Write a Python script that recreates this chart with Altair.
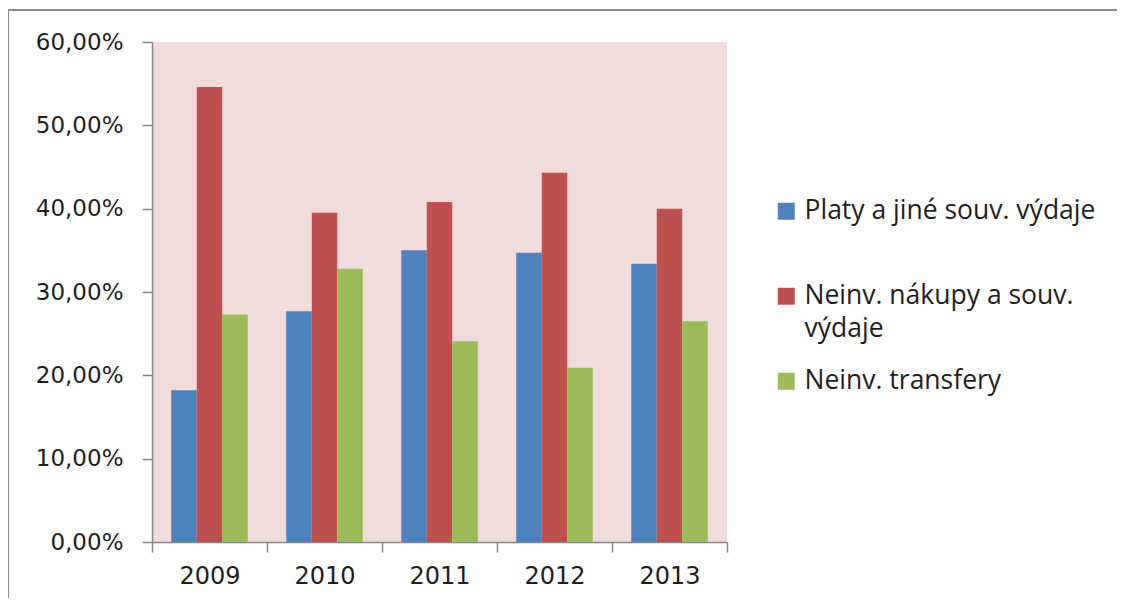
import altair as alt
import pandas as pd

years = ["2009", "2010", "2011", "2012", "2013"]
series = ["Platy a jiné souv. výdaje", "Neinv. nákupy a souv. výdaje", "Neinv. transfery"]
platy = [18.2, 27.7, 35.0, 34.7, 33.4]
nakupy = [54.6, 39.5, 40.8, 44.3, 40.0]
transfery = [27.3, 32.8, 24.1, 20.9, 26.5]
colors = ["#4F81BD", "#C0504D", "#9BBB59"]
y_ticks = [0, 10, 20, 30, 40, 50, 60]

rows = []
for i, yr in enumerate(years):
    for s, vals in zip(series, [platy, nakupy, transfery]):
        rows.append({"year": yr, "series": s, "value": vals[i]})
df = pd.DataFrame(rows)

AX = "#868686"
TXT = "#1e1e1e"

bars = alt.Chart(df).mark_bar().encode(
    x=alt.X(
        "year:N", sort=years, title=None,
        scale=alt.Scale(paddingInner=0, paddingOuter=0),
        axis=alt.Axis(
            labelAngle=0, tickBand="extent", tickSize=10, labelPadding=12,
            domainColor=AX, tickColor=AX, domainWidth=1.5, tickWidth=1.5,
            labelFont="DejaVu Sans", labelFontSize=24, labelColor=TXT, grid=False,
        ),
    ),
    xOffset=alt.XOffset("series:N", sort=series,
                        scale=alt.Scale(paddingInner=0, paddingOuter=0.755)),
    y=alt.Y(
        "value:Q", title=None,
        scale=alt.Scale(domain=[0, 60], nice=False),
        axis=alt.Axis(
            values=y_ticks, tickSize=10, labelPadding=19,
            labelExpr="replace(format(datum.value, '.2f'), '.', ',') + '%'",
            domainColor=AX, tickColor=AX, domainWidth=1.5, tickWidth=1.5,
            labelFont="DejaVu Sans", labelFontSize=23, labelColor=TXT, grid=False,
        ),
    ),
    color=alt.Color(
        "series:N", sort=series,
        scale=alt.Scale(domain=series, range=colors),
        legend=alt.Legend(
            title=None, orient="none", legendX=621, legendY=156,
            symbolType="square", symbolSize=289, symbolStrokeWidth=0,
            labelFont="Open Sans", labelFontSize=26.5, labelColor=TXT,
            labelOffset=5, labelLimit=500, rowPadding=25,
            labelExpr="datum.label == 'Neinv. nákupy a souv. výdaje' ? ['Neinv. nákupy a souv.', 'výdaje'] : [datum.label, '']",
        ),
    ),
)

frame_top = alt.Chart(alt.Data(values=[{"a": 1}])).mark_rule(
    stroke="#8c8c8c", strokeWidth=2
).encode(x=alt.value(-144), x2=alt.value(966), y=alt.value(-32))

frame_left = alt.Chart(alt.Data(values=[{"a": 1}])).mark_rule(
    stroke="#8c8c8c", strokeWidth=2
).encode(x=alt.value(-144), y=alt.value(-33), y2=alt.value(700))

chart = alt.layer(bars, frame_top, frame_left).properties(
    width=575, height=500,
    autosize=alt.AutoSizeParams(type="none"),
    padding={"left": 144, "top": 34, "right": 390, "bottom": 56},
    background="white",
).configure(
    style={"guide-label": {"lineHeight": 33}}
).configure_view(fill="#F2DCDB", stroke=None)

chart.save("out.html", embed_options={"renderer": "svg", "actions": False})
